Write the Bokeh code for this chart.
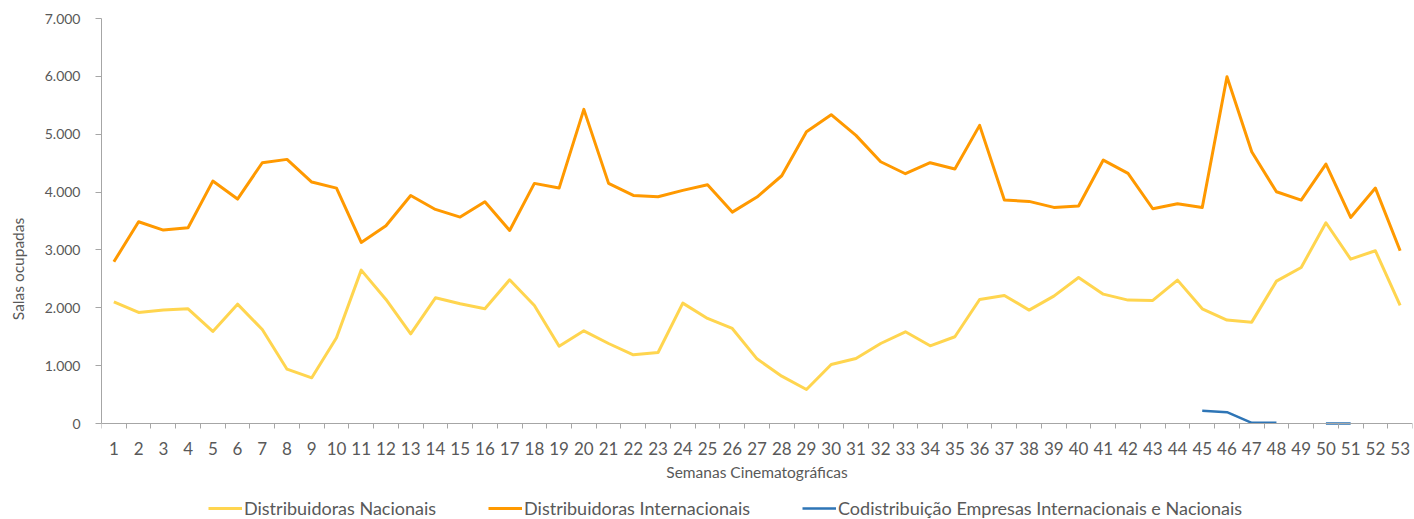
from bokeh.plotting import figure
from bokeh.models import (ColumnDataSource, FixedTicker, CustomJSTickFormatter,
                          Legend, LegendItem, Range1d)
from bokeh.embed import file_html
from bokeh.resources import INLINE

weeks = list(range(1, 54))
nacionais = [2104, 1919, 1960, 1983, 1591, 2063, 1625, 939, 790, 1481,
             2651, 2144, 1550, 2173, 2069, 1983, 2484, 2040, 1337, 1602,
             1383, 1187, 1228, 2081, 1816, 1643, 1118, 818, 588, 1020,
             1124, 1383, 1585, 1343, 1499, 2144, 2213, 1960, 2202, 2524,
             2236, 2133, 2127, 2478, 1983, 1787, 1752, 2461, 2697, 3470,
             2841, 2986, 2040]
internacionais = [2795, 3487, 3343, 3383, 4190, 3879, 4507, 4565, 4173, 4069,
                  3130, 3418, 3942, 3700, 3568, 3833, 3337, 4150, 4069, 5429,
                  4150, 3942, 3919, 4029, 4127, 3654, 3914, 4282, 5043, 5337,
                  4980, 4524, 4317, 4507, 4398, 5153, 3862, 3839, 3735, 3758,
                  4553, 4323, 3712, 3798, 3735, 5994, 4697, 4006, 3862, 4484,
                  3562, 4069, 2986]
nan = float("nan")
codistribuicao = [nan] * 44 + [219, 196, 12, 12, nan, 0, 0, nan, nan]

series_names = ["Distribuidoras Nacionais", "Distribuidoras Internacionais",
                "Codistribuição Empresas Internacionais e Nacionais"]
y_ticks = [0, 1000, 2000, 3000, 4000, 5000, 6000, 7000]
colors = ["#FFD54F", "#FF9900", "#2E75B6"]

FONT = "Lato"
TXT = "#595959"
AX = "#A6A6A6"

src = ColumnDataSource(dict(x=weeks, nac=nacionais, inter=internacionais,
                            codi=codistribuicao))

# the frame reaches down to the window bottom; the x axis is pinned at y = 0
p = figure(width=1414, height=519, output_backend="svg", toolbar_location=None,
           x_range=Range1d(0.5, 53.5), y_range=Range1d(-1659, 7000),
           min_border_left=101, min_border_right=2, min_border_top=18,
           min_border_bottom=0)
p.outline_line_color = None
p.xgrid.visible = False
p.ygrid.visible = False

r1 = p.line("x", "nac", source=src, line_color=colors[0], line_width=3, line_join="round")
r2 = p.line("x", "inter", source=src, line_color=colors[1], line_width=3, line_join="round")
r3 = p.line("x", "codi", source=src, line_color=colors[2], line_width=2.5, line_join="round")

# x axis
p.xaxis.fixed_location = 0
p.xaxis.ticker = FixedTicker(ticks=weeks, minor_ticks=[w - 0.5 for w in weeks] + [53.5])
p.xaxis.major_tick_line_alpha = 0
p.xaxis.major_tick_out = 5
p.xaxis.major_tick_in = 0
p.xaxis.minor_tick_line_color = AX
p.xaxis.minor_tick_out = 5
p.xaxis.minor_tick_in = 0
p.xaxis.major_label_standoff = 13
p.xaxis.axis_line_color = AX
p.xaxis.major_label_text_font = FONT
p.xaxis.major_label_text_font_size = "17px"
p.xaxis.major_label_text_color = TXT
p.xaxis.axis_label = "Semanas Cinematográficas"
p.xaxis.axis_label_text_font = FONT
p.xaxis.axis_label_text_font_style = "normal"
p.xaxis.axis_label_text_font_size = "15.5px"
p.xaxis.axis_label_text_color = TXT
p.xaxis.axis_label_standoff = 5

# y axis
p.yaxis.bounds = (0, 7000)
p.yaxis.ticker = FixedTicker(ticks=y_ticks)
p.yaxis.formatter = CustomJSTickFormatter(
    code='return tick.toFixed(0).replace(/\\B(?=(\\d{3})+(?!\\d))/g, ".");')
p.yaxis.major_tick_out = 6
p.yaxis.major_tick_in = 0
p.yaxis.minor_tick_line_alpha = 0
p.yaxis.major_tick_line_color = AX
p.yaxis.axis_line_color = AX
p.yaxis.major_label_standoff = 15
p.yaxis.major_label_text_font = FONT
p.yaxis.major_label_text_font_size = "14px"
p.yaxis.major_label_text_color = TXT
p.yaxis.axis_label = "Salas ocupadas"
p.yaxis.axis_label_text_font = FONT
p.yaxis.axis_label_text_font_style = "normal"
p.yaxis.axis_label_text_font_size = "15.5px"
p.yaxis.axis_label_text_color = TXT
p.yaxis.axis_label_standoff = 15

legend = Legend(items=[LegendItem(label=series_names[0], renderers=[r1]),
                       LegendItem(label=series_names[1], renderers=[r2]),
                       LegendItem(label=series_names[2], renderers=[r3])],
                orientation="horizontal", location=(107, 0),
                glyph_width=34, label_standoff=2, spacing=52,
                padding=0, margin=0, border_line_alpha=0,
                background_fill_alpha=0,
                label_text_font=FONT, label_text_font_size="18px",
                label_text_color=TXT)
p.add_layout(legend, "center")

open("out.html", "w").write(file_html(p, INLINE))
